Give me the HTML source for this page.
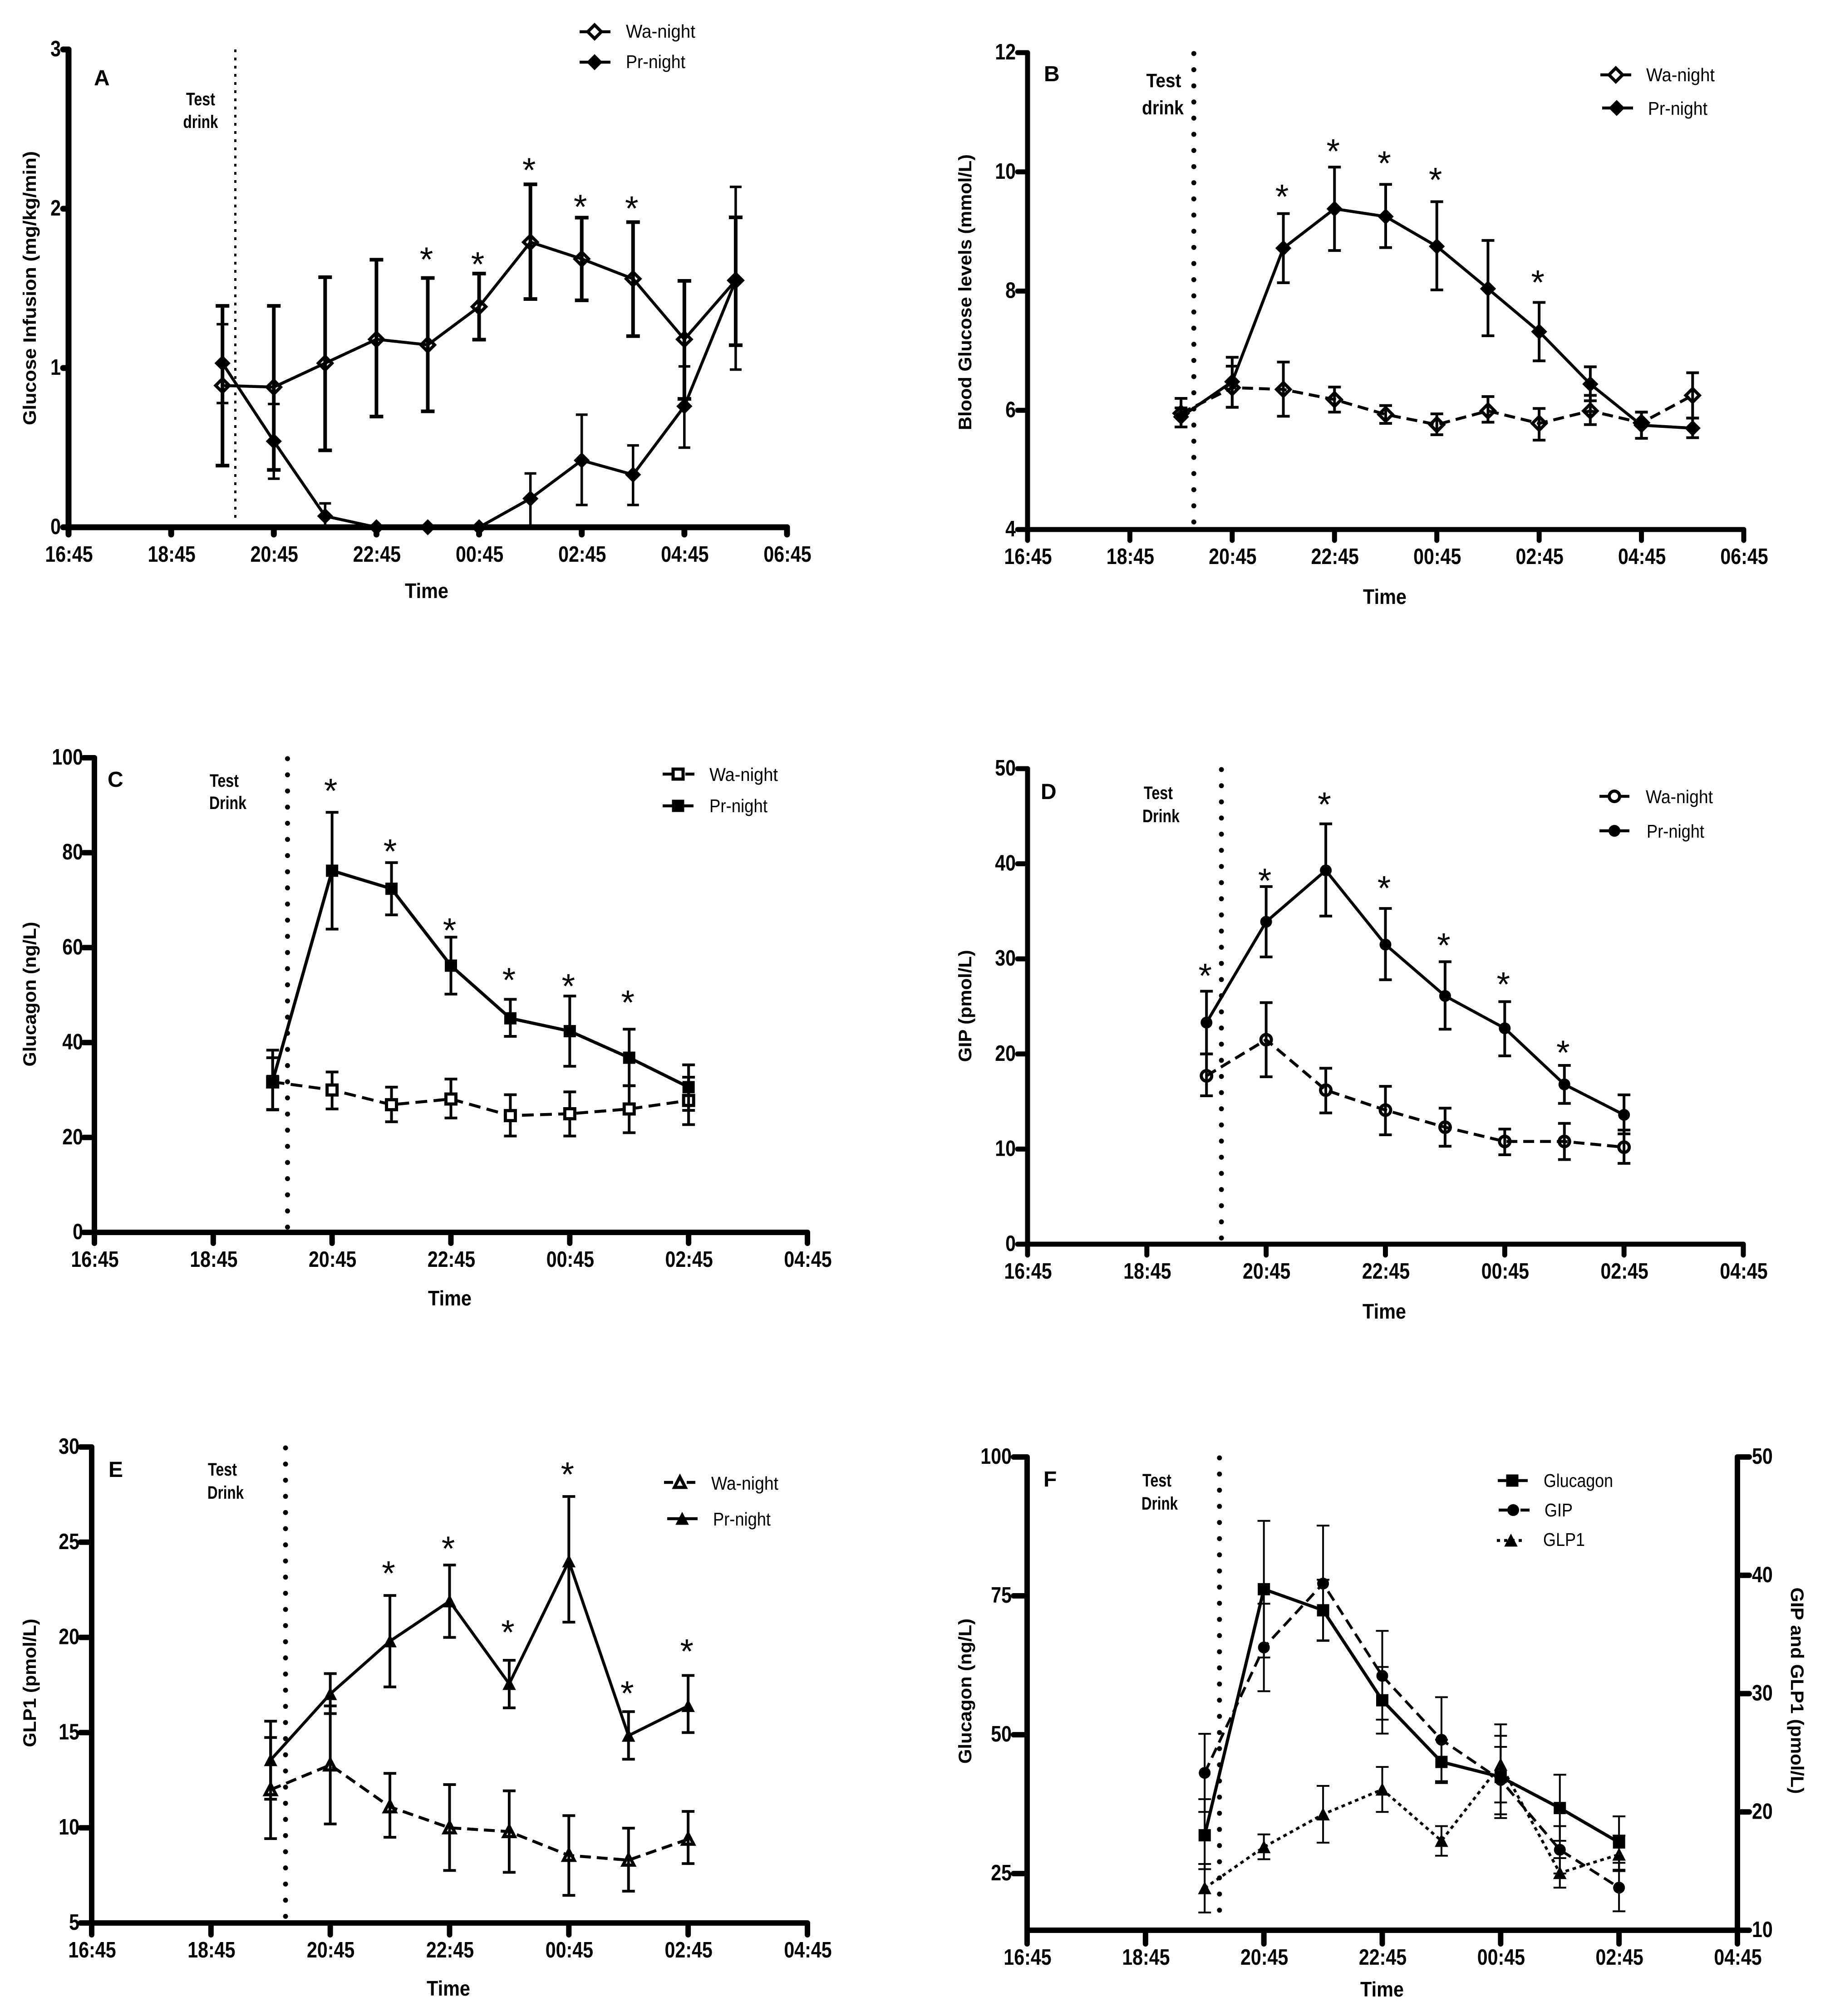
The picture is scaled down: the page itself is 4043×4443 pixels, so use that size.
<!DOCTYPE html>
<html lang="en">
<head>
<meta charset="utf-8">
<title>Glucose, glucagon, GIP and GLP1 time courses</title>
<style>
html,body{margin:0;padding:0;background:#fff}
svg{display:block}
text{font-family:"Liberation Sans",Arial,sans-serif;fill:#000}
</style>
</head>
<body>
<svg id="figure" xmlns="http://www.w3.org/2000/svg" width="4043" height="4443" viewBox="0 0 4043 4443">
<rect x="0" y="0" width="4043" height="4443" fill="#fff"/>
</svg>
<script>
// ---- shared categories ----
const hours11 = [3,4,5,6,7,8,9,10,11,12,13];
const hours8 = [3,4,5,6,7,8,9,10];
const ticksLong = ['16:45','18:45','20:45','22:45','00:45','02:45','04:45','06:45'];
const ticksShort = ['16:45','18:45','20:45','22:45','00:45','02:45','04:45'];

// ---- panel A ----
const aTicks = [0,1,2,3];
const aWaMean = [0.89,0.88,1.03,1.18,1.145,1.385,1.79,1.685,1.56,1.18,1.55];
const aWaHi = [1.39,1.39,1.57,1.68,1.565,1.593,2.153,1.944,1.916,1.547,1.946];
const aWaLo = [0.387,0.36,0.483,0.695,0.728,1.178,1.433,1.425,1.2,0.806,1.143];
const aPrMean = [1.03,0.54,0.07,0,0,0,0.18,0.42,0.33,0.76,1.55];
const aPrHi = [1.275,0.774,0.15,0,0,0,0.338,0.707,0.514,1.01,2.137];
const aPrLo = [0.78,0.305,0,0,0,0,0.01,0.14,0.14,0.5,0.99];
const aStarIdx = [4,5,6,7,8];
const aStarVal = [1.71,1.68,2.27,2.04,2.03];

// ---- panel B ----
const bTicks = [4,6,8,10,12];
const bWaMean = [5.95,6.38,6.35,6.18,5.93,5.76,5.99,5.78,5.99,5.79,6.25];
const bWaHi = [6.2,6.74,6.81,6.39,6.08,5.94,6.23,6.03,6.25,5.97,6.63];
const bWaLo = [5.72,6.05,5.9,5.97,5.78,5.59,5.8,5.5,5.76,5.53,5.87];
const bPrMean = [5.89,6.48,8.72,9.38,9.25,8.75,8.04,7.32,6.44,5.75,5.7];
const bPrHi = [6.04,6.89,9.3,10.08,9.79,9.5,8.85,7.81,6.73,5.97,5.87];
const bPrLo = [5.72,6.05,8.14,8.68,8.73,8.02,7.25,6.83,6.16,5.53,5.54];
const bStarIdx = [2,3,4,5,7];
const bStarVal = [9.66,10.42,10.22,9.94,8.22];

// ---- panel C ----
const cTicks = [0,20,40,60,80,100];
const cWaMean = [31.7,30,26.9,28.1,24.6,25,26,27.8];
const cWaHi = [36.8,33.8,30.6,32.3,29,29.6,30.9,32.7];
const cWaLo = [25.9,26,23.3,24.1,20.3,20.3,21,22.7];
const cPrMean = [31.9,76.2,72.4,56.2,45.1,42.4,36.8,30.6];
const cPrHi = [38.4,88.5,77.9,62.2,49.1,49.8,42.8,35.3];
const cPrLo = [25.8,63.9,66.9,50.2,41.3,35,30.9,25.7];
const cStarIdx = [1,2,3,4,5,6];
const cStarVal = [94,81.2,64.6,54.1,52.8,49.4];

// ---- panel D ----
const dTicks = [0,10,20,30,40,50];
const dWaMean = [17.7,21.5,16.2,14.1,12.3,10.8,10.8,10.2];
const dWaHi = [20,25.4,18.5,16.6,14.3,12.1,12.7,12.0];
const dWaLo = [15.6,17.6,13.8,11.5,10.3,9.4,8.9,8.5];
const dPrMean = [23.3,33.9,39.3,31.5,26.1,22.7,16.8,13.6];
const dPrHi = [26.6,37.6,44.2,35.3,29.7,25.5,18.8,15.7];
const dPrLo = [20,30.2,34.5,27.8,22.6,19.8,14.8,11.6];
const dStarIdx = [0,1,2,3,4,5,6];
const dStarVal = [28.7,38.7,46.7,37.9,31.9,27.8,20.6];

// ---- panel E ----
const eTicks = [5,10,15,20,25,30];
const eWaMean = [12,13.3,11.1,10,9.8,8.55,8.3,9.4];
const eWaHi = [14.74,16.4,12.86,12.27,11.94,10.64,9.98,10.86];
const eWaLo = [9.43,10.2,9.5,7.76,7.66,6.45,6.67,8.12];
const ePrMean = [13.56,17.03,19.8,21.9,17.56,24,14.84,16.4];
const ePrHi = [15.6,18.1,22.2,23.8,18.8,27.4,16.1,18];
const ePrLo = [11.5,16,17.4,20,16.3,20.8,13.6,15];
const eStarIdx = [2,3,4,5,6,7];
const eStarVal = [23.6,24.9,20.5,28.8,17.3,19.5];

// ---- panel F (re-plots the Pr-night series of C, D and E) ----
const fLeftTicks = [25,50,75,100];
const fRightTicks = [10,20,30,40,50];
const fGlucagonMean = cPrMean;
const fGlucagonHi = cPrHi;
const fGlucagonLo = cPrLo;
const fGipMean = dPrMean;
const fGipHi = dPrHi;
const fGipLo = dPrLo;
const fGlp1Mean = ePrMean;
const fGlp1Hi = ePrHi;
const fGlp1Lo = ePrLo;

// ---- helpers ----
const NS = 'http://www.w3.org/2000/svg';
const root = document.getElementById('figure');

function make(parent, tag, name, attrs) {
  const el = document.createElementNS(NS, tag);
  
  
  for (const k in attrs) el.setAttribute(k, attrs[k]);
  parent.appendChild(el);
  return el;
}
function group(parent, name) { return make(parent, 'g', name, {}); }

function label(parent, name, str, x, y, o) {
  o = o || {};
  const attrs = {
    'font-size': o.size || 49,
    'font-weight': o.weight || 'bold',
    'text-anchor': o.anchor || 'middle'
  };
  let tf = 'translate(' + x + ',' + y + ')';
  if (o.rot) tf += ' rotate(' + o.rot + ')';
  if (o.sx) tf += ' scale(' + o.sx + ',1)';
  attrs.transform = tf;
  if (o.len) { attrs.textLength = o.len; attrs.lengthAdjust = 'spacingAndGlyphs'; }
  const t = make(parent, 'text', name, attrs);
  t.textContent = str;
  return t;
}

function marker(parent, name, kind, cx, cy, open, whiteFill) {
  const fill = open ? (whiteFill ? '#fff' : 'none') : '#000';
  const sw = open ? 7 : 1;
  const common = {fill: fill, stroke: '#000', 'stroke-width': sw};
  let a;
  if (kind === 'diamond') {
    const r = open ? 15 : 17;
    a = Object.assign({points: [cx, cy - r, cx + r, cy, cx, cy + r, cx - r, cy].join(' ')}, common);
    make(parent, 'polygon', name, a);
  } else if (kind === 'square') {
    const s = open ? 11 : 13;
    a = Object.assign({x: cx - s, y: cy - s, width: 2 * s, height: 2 * s}, common);
    make(parent, 'rect', name, a);
  } else if (kind === 'circle') {
    a = Object.assign({cx: cx, cy: cy, r: open ? 11.5 : 12.5}, common);
    make(parent, 'circle', name, a);
  } else {
    const r = open ? 12 : 14;
    a = Object.assign({points: [cx, cy - r, cx + r, cy + r - 1, cx - r, cy + r - 1].join(' '), 'stroke-linejoin': 'miter'}, common);
    make(parent, 'polygon', name, a);
  }
}

function drawPanel(p) {
  const g = group(root, 'panel-' + p.id);
  const hoursSpan = (p.xTicks.length - 1) * 2;
  const xs = h => p.x0 + h * (p.x1 - p.x0) / hoursSpan;
  const yL = v => p.yBottom + (v - p.dom[0]) * (p.yTop - p.yBottom) / (p.dom[1] - p.dom[0]);
  const yR = p.domR ? (v => p.yBottom + (v - p.domR[0]) * (p.yTop - p.yBottom) / (p.domR[1] - p.domR[0])) : null;
  const axisStyle = {stroke: '#000', 'stroke-width': p.axisW, 'stroke-linecap': 'round', fill: 'none'};

  // axes
  const axes = group(g, 'axes-' + p.id);
  make(axes, 'line', 'x-axis', Object.assign({x1: p.x0, x2: p.x1, y1: p.yBottom, y2: p.yBottom}, axisStyle));
  make(axes, 'line', 'y-axis', Object.assign({x1: p.x0, x2: p.x0, y1: p.yTop, y2: p.yBottom}, axisStyle));
  p.xTicks.forEach((t, i) => {
    const x = xs(i * 2);
    make(axes, 'line', 'x-tick', Object.assign({x1: x, x2: x, y1: p.yBottom, y2: p.yBottom + p.xTickLen}, axisStyle));
    label(axes, 'x-tick-label', t, x + 1, p.yBottom + 76, {sx: 0.84});
  });
  p.yTicks.forEach(v => {
    const y = yL(v);
    make(axes, 'line', 'y-tick', Object.assign({x1: p.x0 - p.yTickLen, x2: p.x0, y1: y, y2: y}, axisStyle));
    label(axes, 'y-tick-label', String(v), p.x0 - p.yLabelGap, y + 15, {sx: 0.84, anchor: 'end'});
  });
  if (p.domR) {
    make(axes, 'line', 'right-y-axis', Object.assign({x1: p.x1, x2: p.x1, y1: p.yTop, y2: p.yBottom}, axisStyle));
    p.yTicksR.forEach(v => {
      const y = yR(v);
      make(axes, 'line', 'right-y-tick', Object.assign({x1: p.x1, x2: p.x1 + 26, y1: y, y2: y}, axisStyle));
      label(axes, 'right-y-tick-label', String(v), p.x1 + 32, y + 15, {sx: 0.84, anchor: 'start'});
    });
  }

  // titles
  label(g, 'panel-letter', p.id, p.letter[0], p.letter[1], {size: 48, anchor: 'start'});
  label(g, 'x-axis-title', 'Time', p.timeAt[0] - 2, p.timeAt[1] - 1, {size: 46, len: 96});
  label(g, 'y-axis-title', p.yTitle, p.yTitleAt[0], p.yTitleAt[1], {size: 40, rot: -90, len: p.yTitleAt[2]});
  if (p.rTitle) label(g, 'right-y-axis-title', p.rTitle, p.rTitleAt[0], p.rTitleAt[1], {size: 40, rot: 90, len: p.rTitleAt[2]});

  // test drink marker
  const drinkX = xs(3.25);
  if (p.thinDots) {
    make(g, 'line', 'test-drink-line', {x1: drinkX, x2: drinkX, y1: p.yTop, y2: p.drinkEnd, stroke: '#000', 'stroke-width': 5, 'stroke-dasharray': '6 12'});
  } else {
    make(g, 'line', 'test-drink-line', {x1: drinkX, x2: drinkX, y1: p.yTop + 2, y2: p.drinkEnd, stroke: '#000', 'stroke-width': 11, 'stroke-linecap': 'round', 'stroke-dasharray': '0 35.6'});
  }
  label(g, 'test-drink-label', 'Test', p.testAt[0], p.testAt[1], {size: p.testSize, len: p.testLen[0]});
  label(g, 'test-drink-label', p.drinkWord, p.testAt[2], p.testAt[3], {size: p.testSize, len: p.testLen[1]});

  // series
  p.series.forEach(s => {
    const sg = group(g, 'series-' + s.key);
    const y = s.right ? yR : yL;
    const pts = s.hours.map((h, i) => xs(h) + ',' + y(s.mean[i]));
    make(sg, 'polyline', 'series-line', {points: pts.join(' '), fill: 'none', stroke: '#000', 'stroke-width': s.lw, 'stroke-dasharray': s.dash || 'none', 'stroke-linejoin': 'miter'});
    s.hours.forEach((h, i) => {
      const x = xs(h);
      make(sg, 'line', 'error-bar', {x1: x, x2: x, y1: y(s.hi[i]), y2: y(s.lo[i]), stroke: '#000', 'stroke-width': s.ew});
      make(sg, 'line', 'error-cap-top', {x1: x - s.cap, x2: x + s.cap, y1: y(s.hi[i]), y2: y(s.hi[i]), stroke: '#000', 'stroke-width': s.ew});
      make(sg, 'line', 'error-cap-bottom', {x1: x - s.cap, x2: x + s.cap, y1: y(s.lo[i]), y2: y(s.lo[i]), stroke: '#000', 'stroke-width': s.ew});
      marker(sg, 'data-point', s.kind, x, y(s.mean[i]), s.open, s.whiteFill);
    });
  });

  // significance stars
  if (p.starIdx) {
    p.starIdx.forEach((idx, i) => {
      label(g, 'significance-star', '*', xs(p.series[0].hours[idx]) - 3, yL(p.starVal[i]) + 36, {size: 76, weight: 'normal'});
    });
  }

  // legend
  const lg = group(g, 'legend-' + p.id);
  p.legend.forEach(e => {
    const en = group(lg, 'legend-entry');
    const s = p.series[e.s];
    make(en, 'line', 'legend-line', {x1: e.x1, x2: e.x2, y1: e.y, y2: e.y, stroke: '#000', 'stroke-width': 6.5, 'stroke-dasharray': e.dash || 'none'});
    marker(en, 'legend-marker', s.kind, e.mx, e.y, s.open, true);
    label(en, 'legend-label', e.text, e.tx, e.ty, {size: 41, weight: 'normal', anchor: 'start', len: e.len});
  });
}

// ---- panels ----
drawPanel({
  id: 'A', x0: 151, x1: 1734, yTop: 109, yBottom: 1162, dom: [0, 3], axisW: 13,
  xTicks: ticksLong, yTicks: aTicks, xTickLen: 16, yTickLen: 12, yLabelGap: 17,
  letter: [207, 188], timeAt: [942, 1319], yTitle: 'Glucose Infusion  (mg/kg/min)', yTitleAt: [79, 635, 604],
  thinDots: true, drinkEnd: 1153, testAt: [442, 232, 442, 282], testSize: 40, testLen: [64, 77], drinkWord: 'drink',
  starIdx: aStarIdx, starVal: aStarVal,
  series: [
    {key: 'wa-night', hours: hours11, mean: aWaMean, hi: aWaHi, lo: aWaLo, kind: 'diamond', open: true, lw: 6.5, ew: 8, cap: 15},
    {key: 'pr-night', hours: hours11, mean: aPrMean, hi: aPrHi, lo: aPrLo, kind: 'diamond', open: false, lw: 6.5, ew: 5.5, cap: 13}
  ],
  legend: [
    {s: 0, text: 'Wa-night', x1: 1277, x2: 1345, mx: 1310, y: 70, tx: 1379, ty: 83, len: 153},
    {s: 1, text: 'Pr-night', x1: 1277, x2: 1345, mx: 1310, y: 137, tx: 1379, ty: 150, len: 131}
  ]
});
drawPanel({
  id: 'B', x0: 2264, x1: 3842, yTop: 116, yBottom: 1167, dom: [4, 12], axisW: 11,
  xTicks: ticksLong, yTicks: bTicks, xTickLen: 24, yTickLen: 22, yLabelGap: 26,
  letter: [2300, 179], timeAt: [3053, 1332], yTitle: 'Blood Glucose levels (mmol/L)', yTitleAt: [2140, 644, 608],
  drinkEnd: 1153, testAt: [2564, 192, 2562, 252], testSize: 43, testLen: [77, 92], drinkWord: 'drink',
  starIdx: bStarIdx, starVal: bStarVal,
  series: [
    {key: 'wa-night', hours: hours11, mean: bWaMean, hi: bWaHi, lo: bWaLo, kind: 'diamond', open: true, lw: 6.5, ew: 6, cap: 14, dash: '24 13'},
    {key: 'pr-night', hours: hours11, mean: bPrMean, hi: bPrHi, lo: bPrLo, kind: 'diamond', open: false, lw: 6.5, ew: 6, cap: 14}
  ],
  legend: [
    {s: 0, text: 'Wa-night', x1: 3526, x2: 3594, mx: 3560, y: 165, tx: 3627, ty: 179, len: 151, dash: '20 28'},
    {s: 1, text: 'Pr-night', x1: 3530, x2: 3598, mx: 3562, y: 238, tx: 3631, ty: 253, len: 131}
  ]
});
drawPanel({
  id: 'C', x0: 208, x1: 1779, yTop: 1670, yBottom: 2716, dom: [0, 100], axisW: 12,
  xTicks: ticksShort, yTicks: cTicks, xTickLen: 24, yTickLen: 24, yLabelGap: 25,
  letter: [237, 1734], timeAt: [993, 2878], yTitle: 'Glucagon (ng/L)', yTitleAt: [79, 2191, 319],
  drinkEnd: 2708, testAt: [494, 1734, 502, 1783], testSize: 40, testLen: [64, 82], drinkWord: 'Drink',
  starIdx: cStarIdx, starVal: cStarVal,
  series: [
    {key: 'wa-night', hours: hours8, mean: cWaMean, hi: cWaHi, lo: cWaLo, kind: 'square', open: true, whiteFill: true, lw: 6.5, ew: 6, cap: 14, dash: '26 14'},
    {key: 'pr-night', hours: hours8, mean: cPrMean, hi: cPrHi, lo: cPrLo, kind: 'square', open: false, lw: 7, ew: 6, cap: 14}
  ],
  legend: [
    {s: 0, text: 'Wa-night', x1: 1460, x2: 1532, mx: 1494, y: 1706, tx: 1563, ty: 1721, len: 151, dash: '20 30'},
    {s: 1, text: 'Pr-night', x1: 1460, x2: 1528, mx: 1494, y: 1776, tx: 1563, ty: 1790, len: 128}
  ]
});
drawPanel({
  id: 'D', x0: 2264, x1: 3841, yTop: 1694, yBottom: 2742, dom: [0, 50], axisW: 11,
  xTicks: ticksShort, yTicks: dTicks, xTickLen: 24, yTickLen: 22, yLabelGap: 26,
  letter: [2293, 1761], timeAt: [3052, 2907], yTitle: 'GIP (pmol/L)', yTitleAt: [2140, 2217, 247],
  drinkEnd: 2730, testAt: [2552, 1761, 2558, 1812], testSize: 40, testLen: [64, 82], drinkWord: 'Drink',
  starIdx: dStarIdx, starVal: dStarVal,
  series: [
    {key: 'wa-night', hours: hours8, mean: dWaMean, hi: dWaHi, lo: dWaLo, kind: 'circle', open: true, lw: 6.5, ew: 6, cap: 14, dash: '24 13'},
    {key: 'pr-night', hours: hours8, mean: dPrMean, hi: dPrHi, lo: dPrLo, kind: 'circle', open: false, lw: 6.5, ew: 6, cap: 14}
  ],
  legend: [
    {s: 0, text: 'Wa-night', x1: 3524, x2: 3590, mx: 3557, y: 1755, tx: 3626, ty: 1770, len: 148, dash: '20 26'},
    {s: 1, text: 'Pr-night', x1: 3524, x2: 3590, mx: 3557, y: 1831, tx: 3628, ty: 1846, len: 127}
  ]
});
drawPanel({
  id: 'E', x0: 202, x1: 1779, yTop: 3189, yBottom: 4238, dom: [5, 30], axisW: 12,
  xTicks: ticksShort, yTicks: eTicks, xTickLen: 26, yTickLen: 25, yLabelGap: 27,
  letter: [239, 3255], timeAt: [990, 4399], yTitle: 'GLP1 (pmol/L)', yTitleAt: [79, 3709, 283],
  drinkEnd: 4225, testAt: [490, 3252, 497, 3303], testSize: 40, testLen: [64, 80], drinkWord: 'Drink',
  starIdx: eStarIdx, starVal: eStarVal,
  series: [
    {key: 'wa-night', hours: hours8, mean: eWaMean, hi: eWaHi, lo: eWaLo, kind: 'triangle', open: true, lw: 6.5, ew: 6, cap: 14, dash: '24 13'},
    {key: 'pr-night', hours: hours8, mean: ePrMean, hi: ePrHi, lo: ePrLo, kind: 'triangle', open: false, lw: 6.5, ew: 6, cap: 14}
  ],
  legend: [
    {s: 0, text: 'Wa-night', x1: 1463, x2: 1532, mx: 1498, y: 3267, tx: 1567, ty: 3283, len: 148, dash: '20 30'},
    {s: 1, text: 'Pr-night', x1: 1470, x2: 1537, mx: 1503, y: 3347, tx: 1571, ty: 3362, len: 127}
  ]
});
drawPanel({
  id: 'F', x0: 2263, x1: 3828, yTop: 3211, yBottom: 4254, dom: [14.8, 100], domR: [10, 50], axisW: 12,
  xTicks: ticksShort, yTicks: fLeftTicks, yTicksR: fRightTicks, xTickLen: 30, yTickLen: 30, yLabelGap: 34,
  letter: [2299, 3276], timeAt: [3047, 4401], yTitle: 'Glucagon (ng/L)', yTitleAt: [2140, 3727, 320],
  rTitle: 'GIP and GLP1 (pmol/L)', rTitleAt: [3946, 3726, 455],
  drinkEnd: 4240, testAt: [2549, 3276, 2555, 3327], testSize: 40, testLen: [64, 80], drinkWord: 'Drink',
  series: [
    {key: 'glucagon', hours: hours8, mean: fGlucagonMean, hi: fGlucagonHi, lo: fGlucagonLo, kind: 'square', open: false, lw: 7, ew: 4, cap: 14},
    {key: 'gip', right: true, hours: hours8, mean: fGipMean, hi: fGipHi, lo: fGipLo, kind: 'circle', open: false, lw: 6, ew: 4, cap: 14, dash: '24 13'},
    {key: 'glp1', right: true, hours: hours8, mean: fGlp1Mean, hi: fGlp1Hi, lo: fGlp1Lo, kind: 'triangle', open: false, lw: 6, ew: 4, cap: 14, dash: '8 8'}
  ],
  legend: [
    {s: 0, text: 'Glucagon', x1: 3300, x2: 3366, mx: 3332, y: 3263, tx: 3401, ty: 3277, len: 153},
    {s: 1, text: 'GIP', x1: 3302, x2: 3370, mx: 3334, y: 3328, tx: 3403, ty: 3342, len: 62, dash: '20 28'},
    {s: 2, text: 'GLP1', x1: 3298, x2: 3358, mx: 3329, y: 3395, tx: 3400, ty: 3407, len: 92, dash: '7 9'}
  ]
});
</script>
</body>
</html>
